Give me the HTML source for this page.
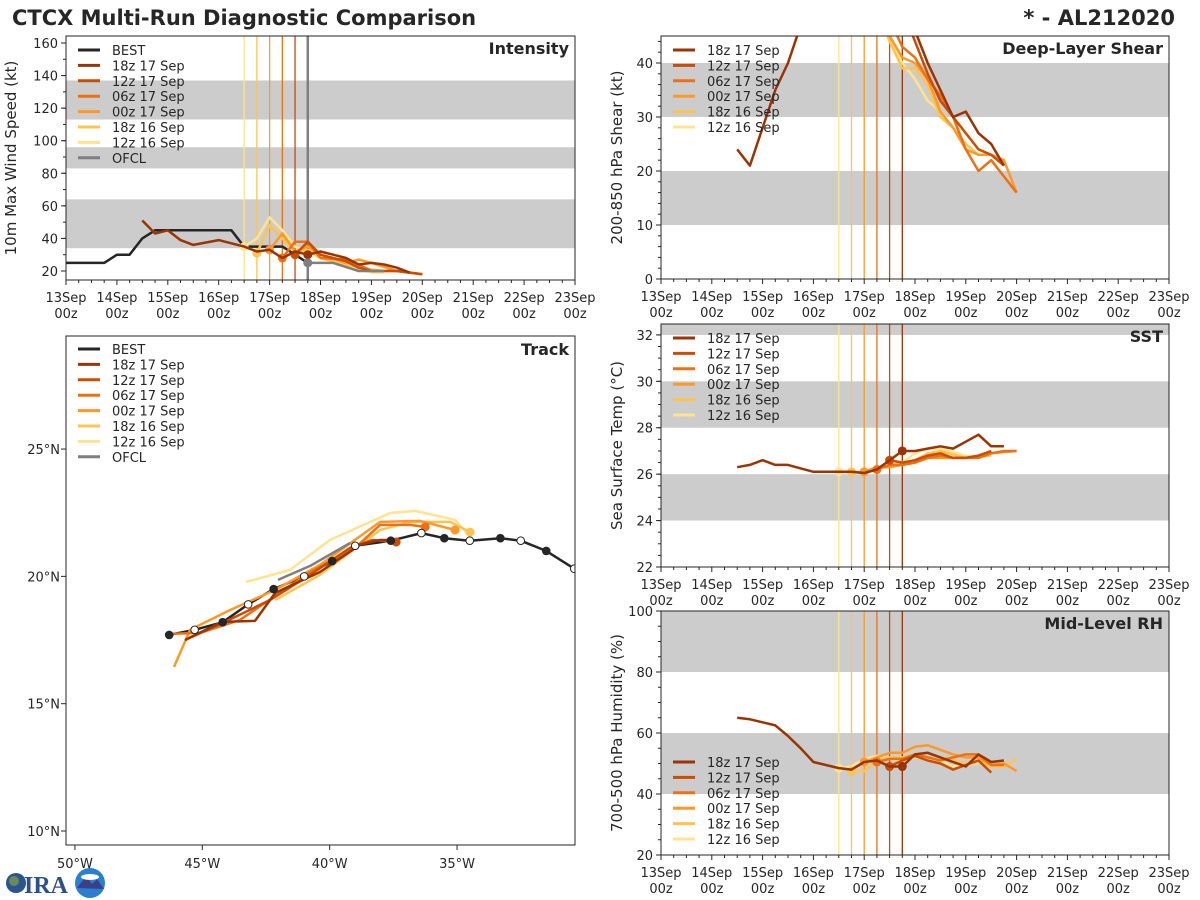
<!DOCTYPE html>
<html><head><meta charset="utf-8"><style>
html,body{margin:0;padding:0;background:#fff;width:1200px;height:900px;overflow:hidden}
svg{display:block;font-family:"DejaVu Sans","Liberation Sans",sans-serif}
</style></head><body>
<svg id="fig" width="1200" height="900" xmlns="http://www.w3.org/2000/svg">
<text x="12" y="25" font-size="21" font-weight="bold" fill="#262626">CTCX Multi-Run Diagnostic Comparison</text>
<text x="1175" y="25" font-size="21" font-weight="bold" fill="#262626" text-anchor="end">* - AL212020</text>
<g>
<circle cx="16" cy="883" r="10" fill="#2a5590"/><circle cx="14" cy="881" r="5" fill="#6a8a5a"/>
<text x="24" y="893" font-size="24" font-weight="bold" fill="#2d4f8e" font-family="Liberation Serif,serif">IRA</text>
<circle cx="90" cy="883" r="15" fill="#2a7fd0"/><path d="M77 888 L86 876 L92 884 L97 879 L104 889 Z" fill="#3a3f8a"/><ellipse cx="90" cy="877" rx="9" ry="3" fill="#fff"/>
</g>
<g id="plots"></g>
</svg>
<script>
// ---------- data ----------
const runNames=["18z 17 Sep","12z 17 Sep","06z 17 Sep","00z 17 Sep","18z 16 Sep","12z 16 Sep"];
const runInit=[17.75,17.5,17.25,17.0,16.75,16.5];
const dayLabels=["13Sep","14Sep","15Sep","16Sep","17Sep","18Sep","19Sep","20Sep","21Sep","22Sep","23Sep"];
// Intensity (kt)
const bestT=[13,13.25,13.5,13.75,14,14.25,14.5,14.75,15,15.5,16,16.25,16.5,16.75,17,17.25,17.5,17.75];
const bestV=[25,25,25,25,30,30,40,45,45,45,45,45,35,35,35,35,30,25];
const ofclT=[17.75,18,18.25,18.75,19.25];
const ofclV=[25,25,25,20,20];
const intT=[
[14.5,14.75,15,15.25,15.5,16,16.5,16.75,17,17.25,17.5,17.75,18,18.25,18.5,18.75,19,19.25,19.5,19.75],
[17.5,17.75,18,18.25,18.5,18.75,19,19.5,20],
[17.25,17.5,17.75,18,18.5,18.75,19,19.5,20],
[17,17.25,17.5,17.75,18,18.5,18.75,19,19.5,20],
[16.75,17,17.25,17.5,17.75,18,18.5,19,19.25],
[16.5,16.75,17,17.25,17.5,18,18.5,19,19.25]];
const intV=[
[51,43,45,39,36,39,35,32,33,28,32,30,32,30,28,24,25,24,22,19],
[30,38,30,28,26,22,20,20,18],
[28,38,38,28,27,24,20,20,18],
[33,43,32,35,30,25,27,25,20,18],
[31,48,40,32,33,28,24,21,20],
[35,40,53,45,35,28,23,19,19]];
// Shear (kt)
const shrT=[
[14.5,14.75,15,15.25,15.5,15.75,16,17,17.75,18,18.25,18.5,18.75,19,19.25,19.5,19.75],
[17.5,17.75,18,18.25,18.5,18.75,19,19.25,19.5,19.75],
[17.25,17.5,17.75,18,18.25,18.5,18.75,19,19.25,19.5,20],
[17,17.25,17.5,17.75,18,18.25,18.5,18.75,19,19.25,19.5,19.75,20],
[16.75,17,17.25,17.5,17.75,18,18.25,18.5,18.75,19,19.25],
[16.5,16.75,17,17.25,17.5,17.75,18,18.25,18.5,18.75,19]];
const shrV=[
[24,21,28,35,40,47,55,60,52,46,40,35,30,31,27,25,21],
[55,50,44,38,33,30,27,24,23,21],
[55,48,43,41,37,34,30,24,20,22,16],
[55,50,45,41,40,37,31,28,24,23,23,22,16],
[60,55,50,44,39,39,36,30,28,25,23],
[60,57,53,48,45,40,37,33,31,28,25]];
// SST (C)
const sstT=[
[14.5,14.75,15,15.25,15.5,15.75,16,16.5,16.75,17,17.25,17.5,17.75,18,18.25,18.5,18.75,19,19.25,19.5,19.75],
[17.5,17.75,18,18.25,18.5,18.75,19,19.25,19.5],
[17.25,17.5,17.75,18,18.25,18.5,18.75,19,19.25,19.5,19.75,20],
[17,17.25,17.5,17.75,18,18.25,18.5,19,19.5,20],
[16.75,17,17.25,17.5,17.75,18,18.25,18.5,19,19.5],
[16.5,16.75,17,17.25,17.5,17.75,18,18.25,18.5,19,19.25]];
const sstV=[
[26.3,26.4,26.6,26.4,26.4,26.25,26.1,26.1,26.1,26.05,26.2,26.6,27.0,27.0,27.1,27.2,27.1,27.4,27.7,27.2,27.2],
[26.6,26.5,26.6,26.8,26.9,26.7,26.7,26.8,27.0],
[26.2,26.4,26.4,26.5,26.7,26.8,26.7,26.7,26.7,26.9,27.0,27.0],
[26.1,26.3,26.3,26.4,26.5,26.7,26.7,26.7,26.9,27.0],
[26.1,26.05,26.3,26.4,26.4,26.6,26.9,27.0,26.7,26.8],
[26.1,26.05,26.05,26.2,26.4,26.5,26.9,27.1,27.1,26.8,26.7]];
// Mid-level RH (%)
const rhT=[
[14.5,14.75,15,15.25,15.5,15.75,16,16.5,16.75,17,17.25,17.5,17.75,18,18.25,18.5,18.75,19,19.25,19.5,19.75],
[17.5,17.75,18,18.25,18.5,18.75,19,19.25,19.5],
[17.25,17.5,17.75,18,18.25,18.5,18.75,19,19.25,19.5,19.75],
[17,17.25,17.5,17.75,18,18.25,18.5,18.75,19,19.25,19.5,19.75,20],
[16.75,17,17.25,17.5,17.75,18,18.25,18.5,18.75,19,19.25,19.5,19.75,20],
[16.5,16.75,17,17.25,17.5,17.75,18,18.5,18.75,19,19.25]];
const rhV=[
[65,64.5,63.5,62.5,59,55,50.5,48.5,48,50.5,51,49,49,53,53.5,52,50.5,49,53,50.5,51],
[49,51,52.5,51,50,48,49.5,51,47],
[50.5,51.5,51.5,53,52,51,52,53,53,49.5,49.5],
[50.5,52,53.5,53.5,55.5,56,54.5,53,52,52,49.5,50,47.5],
[47.5,47.5,51,52,52,53,53.5,52,51,50,51,49,49,51.5],
[48.5,49,51.5,52.5,51.5,51,52,51,49,49.5,50]];
// Track (lon E-negative, lat)
const bestLon=[-46.3,-45.3,-44.2,-43.2,-42.2,-41.0,-39.9,-39.0,-37.6,-36.4,-35.5,-34.5,-33.3,-32.5,-31.5,-30.4];
const bestLat=[17.7,17.9,18.2,18.9,19.5,20.0,20.6,21.2,21.4,21.7,21.5,21.4,21.5,21.4,21.0,20.3];
const trkLon=[
[-45.68,-44.23,-42.93,-42.14,-40.38,-38.81,-38.02,-37.51],
[-45.68,-44.11,-42.34,-40.77,-39.2,-38.33,-37.39],
[-46.31,-45.09,-43.52,-42.14,-40.77,-39.0,-38.02,-36.84,-36.25],
[-46.11,-45.48,-43.91,-42.14,-40.38,-38.02,-36.45,-35.08],
[-42.14,-40.38,-38.02,-36.84,-35.27,-34.49],
[-43.28,-41.56,-39.99,-37.63,-36.65,-35.08,-34.49]];
const trkLat=[
[17.5,18.21,18.25,19.35,20.17,21.24,21.43,21.43],
[17.5,18.21,19.07,20.06,21.12,21.43,21.35],
[17.74,17.78,18.29,19.23,20.17,21.12,22.02,22.02,21.94],
[16.44,17.9,18.68,19.47,20.45,22.14,22.18,21.82],
[19.07,20.06,21.82,22.14,22.14,21.74],
[19.78,20.25,21.43,22.49,22.57,22.22,21.55]];
const ofclLon=[-42.03,-40.77,-39.2];
const ofclLat=[19.86,20.41,21.31];
const latTicks=[10,15,20,25];
const lonTicks=[-50,-45,-40,-35];

// ---------- styling ----------
const runColors=["#993404","#cc4c02","#ec7014","#fe9929","#fec44f","#fee391"];
const NS="http://www.w3.org/2000/svg";
const root=document.getElementById('plots');
function el(tag,attrs,parent){const e=document.createElementNS(NS,tag);for(const k in attrs)e.setAttribute(k,attrs[k]);(parent||root).appendChild(e);return e;}
function txt(s,attrs,parent){const e=el('text',attrs,parent);e.textContent=s;return e;}
let clipId=0;

function timePanel(p){
  const g=el('g',{});
  
  
  const X=t=>p.x0+(t-13)/10*(p.x1-p.x0);
  const Y=v=>p.y1-(v-p.vmin)/(p.vmax-p.vmin)*(p.y1-p.y0);
  const cid='c'+(clipId++);
  const cp=el('clipPath',{id:cid},g);el('rect',{x:p.x0,y:p.y0,width:p.x1-p.x0,height:p.y1-p.y0},cp);
  const pl=el('g',{'clip-path':'url(#'+cid+')'},g);
  p.bands.forEach(b=>{const r=el('rect',{x:p.x0,y:Y(b[1]),width:p.x1-p.x0,height:Y(b[0])-Y(b[1]),fill:'#cccccc'},pl);
    });
  // init lines
  for(let i=5;i>=0;i--){const l=el('line',{x1:X(runInit[i]),x2:X(runInit[i]),y1:p.y0,y2:p.y1,stroke:runColors[i],'stroke-width':1.3},pl);
    }
  if(p.ofcl){const l=el('line',{x1:X(17.75),x2:X(17.75),y1:p.y0,y2:p.y1,stroke:'#7f7f7f','stroke-width':2.5},pl);
    }
  function series(T,V,col,w,name,dotT){
    const pts=T.map((t,j)=>X(t).toFixed(1)+','+Y(V[j]).toFixed(1)).join(' ');
    const s=el('polyline',{points:pts,fill:'none',stroke:col,'stroke-width':w,'stroke-linejoin':'round'},pl);
    
    if(dotT!==undefined){const j=T.indexOf(dotT);if(j>=0){const c=el('circle',{cx:X(T[j]),cy:Y(V[j]),r:4.5,fill:col},pl);
      }}
  }
  if(p.best){series(bestT,bestV,'#262626',2.5,'best-line');}
  for(let i=5;i>=0;i--){series(p.T[i],p.V[i],runColors[i],2.5,'run-line-'+runNames[i].replace(/ /g,'-').toLowerCase(),runInit[i]);}
  if(p.ofcl){series(ofclT,ofclV,'#7f7f7f',2.5,'ofcl-line',17.75);}
  el('rect',{x:p.x0,y:p.y0,width:p.x1-p.x0,height:p.y1-p.y0,fill:'none',stroke:'#262626','stroke-width':1},g);
  // x ticks
  for(let d=0;d<=10;d++){const x=X(13+d);el('line',{x1:x,x2:x,y1:p.y1,y2:p.y1+5,stroke:'#262626'},g);
    for(let q=1;q<4&&d<10;q++){const xm=X(13+d+q/4);el('line',{x1:xm,x2:xm,y1:p.y1,y2:p.y1+3,stroke:'#262626'},g);}
    const a=txt(dayLabels[d],{x:x,y:p.y1+22,'font-size':13,'text-anchor':'middle',fill:'#262626'},g);
    
    const b=txt('00z',{x:x,y:p.y1+38,'font-size':13,'text-anchor':'middle',fill:'#262626'},g);
    }
  // y ticks
  p.yticks.forEach(v=>{const y=Y(v);el('line',{x1:p.x0-5,x2:p.x0,y1:y,y2:y,stroke:'#262626'},g);
    const t=txt(String(v),{x:p.x0-8,y:y+5,'font-size':13,'text-anchor':'end',fill:'#262626'},g);
    });
  for(let v=p.minorStart;v<p.vmax;v+=p.minor){const y=Y(v);if(y>=p.y0&&y<=p.y1)el('line',{x1:p.x0-3,x2:p.x0,y1:y,y2:y,stroke:'#262626'},g);}
  const yl=txt(p.ylabel,{x:0,y:0,'font-size':15,'text-anchor':'middle',fill:'#262626',transform:`translate(${p.ylx},${(p.y0+p.y1)/2}) rotate(-90)`},g);
  
  const tt=txt(p.title,{x:p.x1-6,y:p.y0+18,'font-size':16,'font-weight':'bold','text-anchor':'end',fill:'#262626'},g);
  
  // legend
  const entries=[];if(p.best)entries.push(['BEST','#262626']);
  runNames.forEach((n,i)=>entries.push([n,runColors[i]]));if(p.ofcl)entries.push(['OFCL','#7f7f7f']);
  entries.forEach((e,k)=>{const y=p.legY+k*15.4;const lg=el('g',{},g);
    
    el('line',{x1:p.x0+12,x2:p.x0+34,y1:y,y2:y,stroke:e[1],'stroke-width':3},lg);
    txt(e[0],{x:p.x0+46,y:y+5,'font-size':13,fill:'#262626'},lg);});
}

timePanel({name:'intensity-panel',x0:66,x1:575,y0:36,y1:280,vmin:14.47,vmax:164.3,yticks:[20,40,60,80,100,120,140,160],minor:10,minorStart:20,
  bands:[[34,64],[83,96],[113,137]],T:intT,V:intV,best:true,ofcl:true,title:'Intensity',ylabel:'10m Max Wind Speed (kt)',ylx:16,legY:50});
timePanel({name:'shear-panel',x0:661,x1:1169,y0:36,y1:279,vmin:0,vmax:45,yticks:[0,10,20,30,40],minor:2,minorStart:0,
  bands:[[10,20],[30,40]],T:shrT,V:shrV,title:'Deep-Layer Shear',ylabel:'200-850 hPa Shear (kt)',ylx:622,legY:50});
timePanel({name:'sst-panel',x0:661,x1:1169,y0:324,y1:567,vmin:22,vmax:32.47,yticks:[22,24,26,28,30,32],minor:0.5,minorStart:22,
  bands:[[24,26],[28,30],[32,33]],T:sstT,V:sstV,title:'SST',ylabel:'Sea Surface Temp (°C)',ylx:622,legY:338});
timePanel({name:'rh-panel',x0:661,x1:1169,y0:611,y1:855,vmin:20,vmax:100,yticks:[20,40,60,80,100],minor:5,minorStart:20,
  bands:[[40,60],[80,100]],T:rhT,V:rhV,title:'Mid-Level RH',ylabel:'700-500 hPa Humidity (%)',ylx:622,legY:762});

// ---------- track ----------
(function(){
  const x0=66,x1=575,y0=336,y1=845;
  const lonMin=-50.35,lonMax=-30.37,latMin=9.45,latMax=29.44;
  const X=l=>x0+(l-lonMin)/(lonMax-lonMin)*(x1-x0);
  const Y=l=>y1-(l-latMin)/(latMax-latMin)*(y1-y0);
  const g=el('g',{});
  
  
  const cp=el('clipPath',{id:'ctrk'},g);el('rect',{x:x0,y:y0,width:x1-x0,height:y1-y0},cp);
  const pl=el('g',{'clip-path':'url(#ctrk)'},g);
  function line(LON,LAT,col,name){const s=el('polyline',{points:LON.map((l,j)=>X(l).toFixed(1)+','+Y(LAT[j]).toFixed(1)).join(' '),fill:'none',stroke:col,'stroke-width':2.5,'stroke-linejoin':'round'},pl);
    }
  line(bestLon,bestLat,'#262626','best-track');
  for(let i=5;i>=0;i--){line(trkLon[i],trkLat[i],runColors[i],'track-'+runNames[i].replace(/ /g,'-').toLowerCase());
    const n=trkLon[i].length-1;if(i>=1&&i<=4){const c=el('circle',{cx:X(trkLon[i][n]),cy:Y(trkLat[i][n]),r:4.5,fill:runColors[i]},pl);
      }}
  line(ofclLon,ofclLat,'#7f7f7f','ofcl-track');
  bestLon.forEach((l,j)=>{const c=el('circle',{cx:X(l),cy:Y(bestLat[j]),r:3.8,fill:j%2?'#fff':'#262626',stroke:'#262626','stroke-width':1},pl);
    });
  el('rect',{x:x0,y:y0,width:x1-x0,height:y1-y0,fill:'none',stroke:'#262626','stroke-width':1},g);
  latTicks.forEach(v=>{const y=Y(v);el('line',{x1:x0-5,x2:x0,y1:y,y2:y,stroke:'#262626'},g);
    const t=txt(v+'°N',{x:x0-6,y:y+5,'font-size':13,'text-anchor':'end',fill:'#262626'},g);
    });
  lonTicks.forEach(v=>{const x=X(v);el('line',{x1:x,x2:x,y1:y1,y2:y1+5,stroke:'#262626'},g);
    const t=txt((-v)+'°W',{x:x,y:y1+23,'font-size':13,'text-anchor':'middle',fill:'#262626'},g);
    });
  const tt=txt('Track',{x:x1-6,y:y0+19,'font-size':16,'font-weight':'bold','text-anchor':'end',fill:'#262626'},g);
  
  const entries=[['BEST','#262626']];runNames.forEach((n,i)=>entries.push([n,runColors[i]]));entries.push(['OFCL','#7f7f7f']);
  entries.forEach((e,k)=>{const y=349+k*15.4;const lg=el('g',{},g);
    
    el('line',{x1:x0+12,x2:x0+34,y1:y,y2:y,stroke:e[1],'stroke-width':3},lg);
    txt(e[0],{x:x0+46,y:y+5,'font-size':13,fill:'#262626'},lg);});
})();
</script>
</body></html>
